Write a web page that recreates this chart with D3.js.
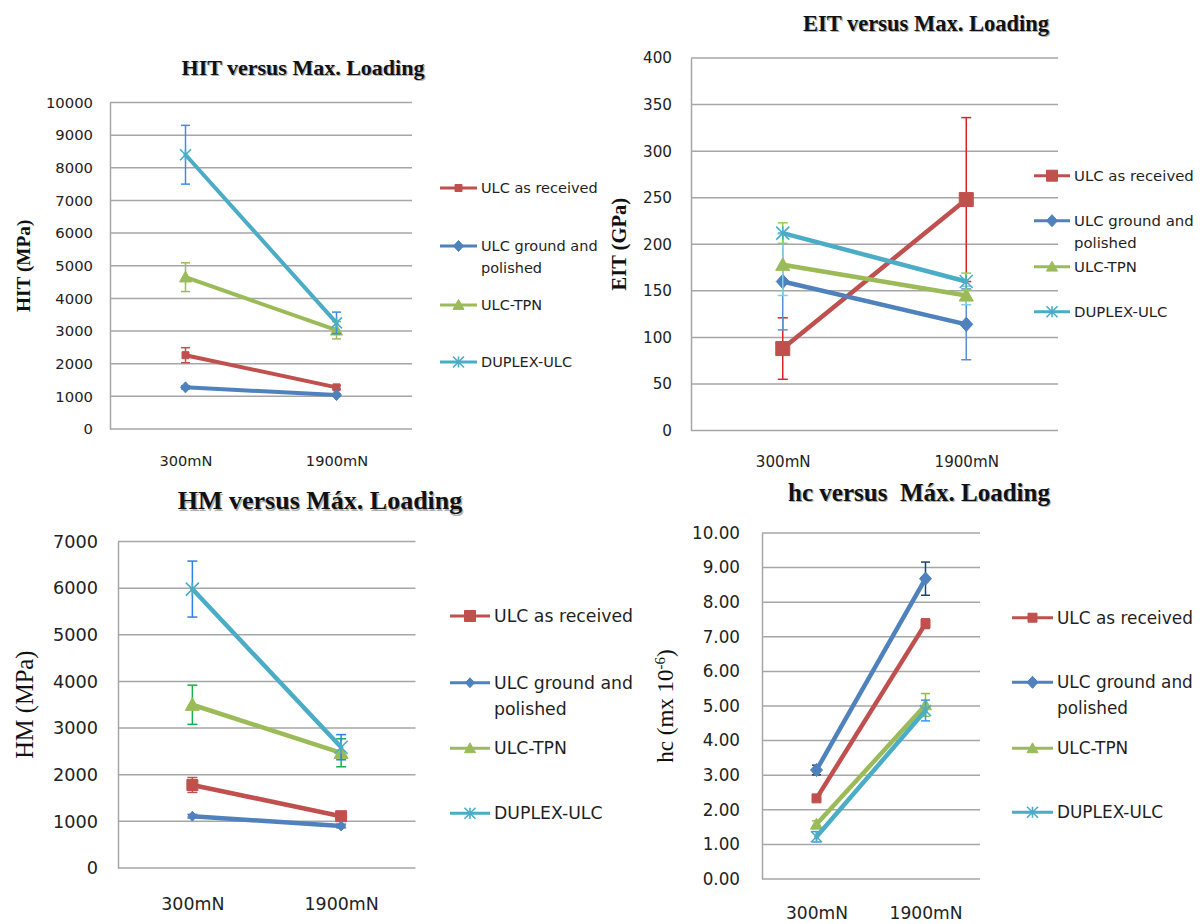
<!DOCTYPE html>
<html>
<head>
<meta charset="utf-8">
<script src="https://cdn.jsdelivr.net/npm/d3@7/dist/d3.min.js"></script>
<style>
  body { margin: 0; background: #fff; }
</style>
</head>
<body>
<script>
// categories and series shared by the four charts
var categories = ["300mN", "1900mN"];
var seriesNames = ["ULC as received", "ULC ground and polished", "ULC-TPN", "DUPLEX-ULC"];
var legendLines = [["ULC as received"], ["ULC ground and", "polished"], ["ULC-TPN"], ["DUPLEX-ULC"]];

// HIT (MPa)
var hitValues = [[2260, 1275], [1275, 1040], [4650, 3025], [8400, 3250]];
var hitErrors = [[230, 60], [50, 40], [440, 265], [900, 330]];
var hitTicks = [0, 1000, 2000, 3000, 4000, 5000, 6000, 7000, 8000, 9000, 10000];

// EIT (GPa)
var eitValues = [[88, 248], [160, 114], [178, 145], [212, 160]];
var eitErrors = [[33, 88], [52, 38], [33, 10], [11, 9]];
var eitTicks = [0, 50, 100, 150, 200, 250, 300, 350, 400];

// HM (MPa)
var hmValues = [[1780, 1110], [1110, 900], [3500, 2470], [5980, 2590]];
var hmErrors = [[160, 70], [40, 40], [420, 300], [600, 270]];
var hmTicks = [0, 1000, 2000, 3000, 4000, 5000, 6000, 7000];

// hc (m x 10^-6)
var hcValues = [[2.33, 7.38], [3.15, 8.68], [1.58, 5.03], [1.22, 4.87]];
var hcErrors = [[0.08, 0.14], [0.14, 0.48], [0.1, 0.33], [0.15, 0.3]];
var hcTicks = [0, 1, 2, 3, 4, 5, 6, 7, 8, 9, 10];

// styles
var seriesColors = ["#c0504d", "#4f81bd", "#9bbb59", "#4bacc6"];
var seriesMarkers = ["square", "diamond", "triangle", "star"];
var sansFont = "'DejaVu Sans', sans-serif";
var serifFont = "'Liberation Serif', 'Times New Roman', serif";

var panels = [
    {values: hitValues, errors: hitErrors, ticks: hitTicks, fmt: d3.format("d"),
     errColors: ["#c0504d", "#4f81bd", "#9bbb59", "#3d8ce8"],
     left: 110, right: 412, top: 102.5, bottom: 429,
     title: "HIT versus Max. Loading", titleX: 303, titleY: 67, titleSize: 22,
     yTitle: "HIT (MPa)", yTitleX: 23, yTitleBold: true, yTitleSize: 19.3,
     tickSize: 14.8, tickGap: 17, xLabelY: 461, xLabelSize: 14.6,
     legendX: 440, legendLen: 37, legendY: [188, 246, 305, 362], legendGap: 22, legendSize: 14.5,
     lineWidth: 4, markerSizes: [7, 10, 12, 11], capW: 9},
    {values: eitValues, errors: eitErrors, ticks: eitTicks, fmt: d3.format("d"),
     errColors: ["#dc2424", "#5b8fd0", "#7fcfe0", "#92d050"],
     left: 691, right: 1058, top: 58, bottom: 430.5,
     title: "EIT versus Max. Loading", titleX: 926, titleY: 23, titleSize: 22.5,
     yTitle: "EIT (GPa)", yTitleX: 619, yTitleBold: true, yTitleSize: 20.5,
     tickSize: 15.2, tickGap: 19, xLabelY: 462, xLabelSize: 15.1,
     legendX: 1034, legendLen: 36, legendY: [175.7, 220.7, 266.7, 311.7], legendGap: 22, legendSize: 14.9,
     lineWidth: 4.5, markerSizes: [14, 13, 14, 13], capW: 10},
    {values: hmValues, errors: hmErrors, ticks: hmTicks, fmt: d3.format("d"),
     errColors: ["#c0504d", "#4f81bd", "#14b04c", "#2e7fe8"],
     left: 118, right: 415.5, top: 541.5, bottom: 868,
     title: "HM versus Máx. Loading", titleX: 320, titleY: 500, titleSize: 26,
     yTitle: "HM (MPa)", yTitleX: 24.5, yTitleBold: false, yTitleSize: 24.5,
     tickSize: 17.7, tickGap: 20, xLabelY: 904, xLabelSize: 17.4,
     legendX: 450, legendLen: 40, legendY: [616, 682.7, 748.3, 813.3], legendGap: 26, legendSize: 17.3,
     lineWidth: 4.5, markerSizes: [11, 9, 14, 13], capW: 10},
    {values: hcValues, errors: hcErrors, ticks: hcTicks, fmt: d3.format(".2f"),
     errColors: ["#c0504d", "#1f3f7f", "#8fbf3f", "#3399ff"],
     left: 762, right: 980, top: 533, bottom: 879,
     title: "hc versus  Máx. Loading", titleX: 919, titleY: 492, titleSize: 25,
     yTitle: "hc", yTitleX: 665, yTitleBold: false, yTitleSize: 23,
     tickSize: 16.8, tickGap: 22, xLabelY: 913, xLabelSize: 17.1,
     legendX: 1012, legendLen: 41, legendY: [617.7, 682.3, 748.3, 812.3], legendGap: 25.5, legendSize: 16.9,
     lineWidth: 4.5, markerSizes: [9, 12, 12, 11], capW: 9}
];

function markerPath(type, w) {
    var h = w / 2;
    if (type === "square") return "M" + (-h) + "," + (-h) + "h" + w + "v" + w + "h" + (-w) + "Z";
    if (type === "diamond") return "M0," + (-h * 1.1) + "L" + h + ",0L0," + (h * 1.1) + "L" + (-h) + ",0Z";
    if (type === "triangle") return "M0," + (-h) + "L" + h + "," + (h * 0.8) + "L" + (-h) + "," + (h * 0.8) + "Z";
    return "M" + (-h) + "," + (-h) + "L" + h + "," + h + "M" + (-h) + "," + h + "L" + h + "," + (-h) + "M0," + (-h) + "L0," + h;
}

function drawMarker(g, type, color, w, cx, cy) {
    var m = g.append("path")
        .attr("d", markerPath(type, w))
        .attr("transform", "translate(" + cx + "," + cy + ")");
    if (type === "star") {
        m.attr("fill", "none").attr("stroke", color).attr("stroke-width", 1.6);
    } else {
        m.attr("fill", color).attr("stroke", color).attr("stroke-width", 1);
    }
}

var svg = d3.select("body").append("svg")
    .attr("width", 1203)
    .attr("height", 924);

panels.forEach(function (p) {
    var g = svg.append("g");

    var xScale = d3.scalePoint()
        .domain(categories)
        .range([p.left, p.right])
        .padding(0.5);

    var yScale = d3.scaleLinear()
        .domain([0, p.ticks[p.ticks.length - 1]])
        .range([p.bottom, p.top]);

    // gridlines
    g.selectAll(".grid").data(p.ticks).enter()
        .append("line")
        .attr("x1", p.left)
        .attr("x2", p.right)
        .attr("y1", function (d) {return yScale(d);})
        .attr("y2", function (d) {return yScale(d);})
        .attr("stroke", "#a6a6a6")
        .attr("stroke-width", 1.5);

    // y axis
    var yAxis = d3.axisLeft(yScale)
        .tickValues(p.ticks)
        .tickFormat(p.fmt)
        .tickSize(0)
        .tickPadding(p.tickGap);

    var ya = g.append("g")
        .attr("transform", "translate(" + p.left + ",0)")
        .call(yAxis);
    ya.select(".domain").attr("stroke", "#a6a6a6").attr("stroke-width", 1.5);
    ya.selectAll("text")
        .attr("font-family", sansFont)
        .attr("font-size", p.tickSize)
        .attr("fill", "#222");

    // x axis labels
    var xAxis = d3.axisBottom(xScale).tickSize(0);
    var xa = g.append("g")
        .attr("transform", "translate(0," + p.bottom + ")")
        .call(xAxis);
    xa.select(".domain").remove();
    xa.selectAll("text")
        .attr("y", p.xLabelY - p.bottom)
        .attr("dy", "0.35em")
        .attr("font-family", sansFont)
        .attr("font-size", p.xLabelSize)
        .attr("fill", "#222");

    // series: error bars, line, markers
    p.values.forEach(function (vals, i) {
        var color = seriesColors[i];
        var errs = p.errors[i];

        vals.forEach(function (v, j) {
            var cx = xScale(categories[j]);
            var y1 = yScale(v - errs[j]);
            var y2 = yScale(v + errs[j]);
            var ec = p.errColors[i];
            g.append("line").attr("x1", cx).attr("x2", cx).attr("y1", y1).attr("y2", y2)
                .attr("stroke", ec).attr("stroke-width", 1.5);
            [y1, y2].forEach(function (yy) {
                g.append("line").attr("x1", cx - p.capW / 2).attr("x2", cx + p.capW / 2)
                    .attr("y1", yy).attr("y2", yy)
                    .attr("stroke", ec).attr("stroke-width", 1.5);
            });
        });

        var line = d3.line()
            .x(function (d, j) {return xScale(categories[j]);})
            .y(function (d) {return yScale(d);});

        g.append("path")
            .datum(vals)
            .attr("d", line)
            .attr("fill", "none")
            .attr("stroke", color)
            .attr("stroke-width", p.lineWidth)
            .attr("stroke-linecap", "round");

        vals.forEach(function (v, j) {
            drawMarker(g, seriesMarkers[i], color, p.markerSizes[i], xScale(categories[j]), yScale(v));
        });
    });

    // title with a faint shadow
    [["#b0b0b0", 1.2, 1.5], ["#111", 0, 0]].forEach(function (s) {
        g.append("text")
            .attr("x", p.titleX + s[1])
            .attr("y", p.titleY + s[2])
            .attr("dy", "0.35em")
            .attr("text-anchor", "middle")
            .attr("font-family", serifFont)
            .attr("font-weight", "bold")
            .attr("font-size", p.titleSize)
            .attr("fill", s[0])
            .style("white-space", "pre")
            .text(p.title);
    });

    // y axis title
    var cy = (p.top + p.bottom) / 2;
    var yt = g.append("text")
        .attr("transform", "translate(" + p.yTitleX + "," + cy + ") rotate(-90)")
        .attr("dy", "0.35em")
        .attr("text-anchor", "middle")
        .attr("font-family", serifFont)
        .attr("font-weight", p.yTitleBold ? "bold" : "normal")
        .attr("font-size", p.yTitleSize)
        .attr("fill", "#111");
    if (p.yTitle === "hc") {
        yt.append("tspan").text("hc (mx 10");
        yt.append("tspan").attr("baseline-shift", "super").attr("font-size", p.yTitleSize * 0.65).text("-6");
        yt.append("tspan").text(")");
    } else {
        yt.text(p.yTitle);
    }

    // legend
    seriesNames.forEach(function (name, i) {
        var ly = p.legendY[i];
        var color = seriesColors[i];
        g.append("line")
            .attr("x1", p.legendX).attr("x2", p.legendX + p.legendLen)
            .attr("y1", ly).attr("y2", ly)
            .attr("stroke", color).attr("stroke-width", 3);
        drawMarker(g, seriesMarkers[i], color, Math.min(p.markerSizes[i], 11), p.legendX + p.legendLen / 2, ly);
        legendLines[i].forEach(function (txt, k) {
            g.append("text")
                .attr("x", p.legendX + p.legendLen + 4)
                .attr("y", ly + k * p.legendGap)
                .attr("dy", "0.35em")
                .attr("font-family", sansFont)
                .attr("font-size", p.legendSize)
                .attr("fill", "#1f1f1f")
                .text(txt);
        });
    });
});
</script>
</body>
</html>
